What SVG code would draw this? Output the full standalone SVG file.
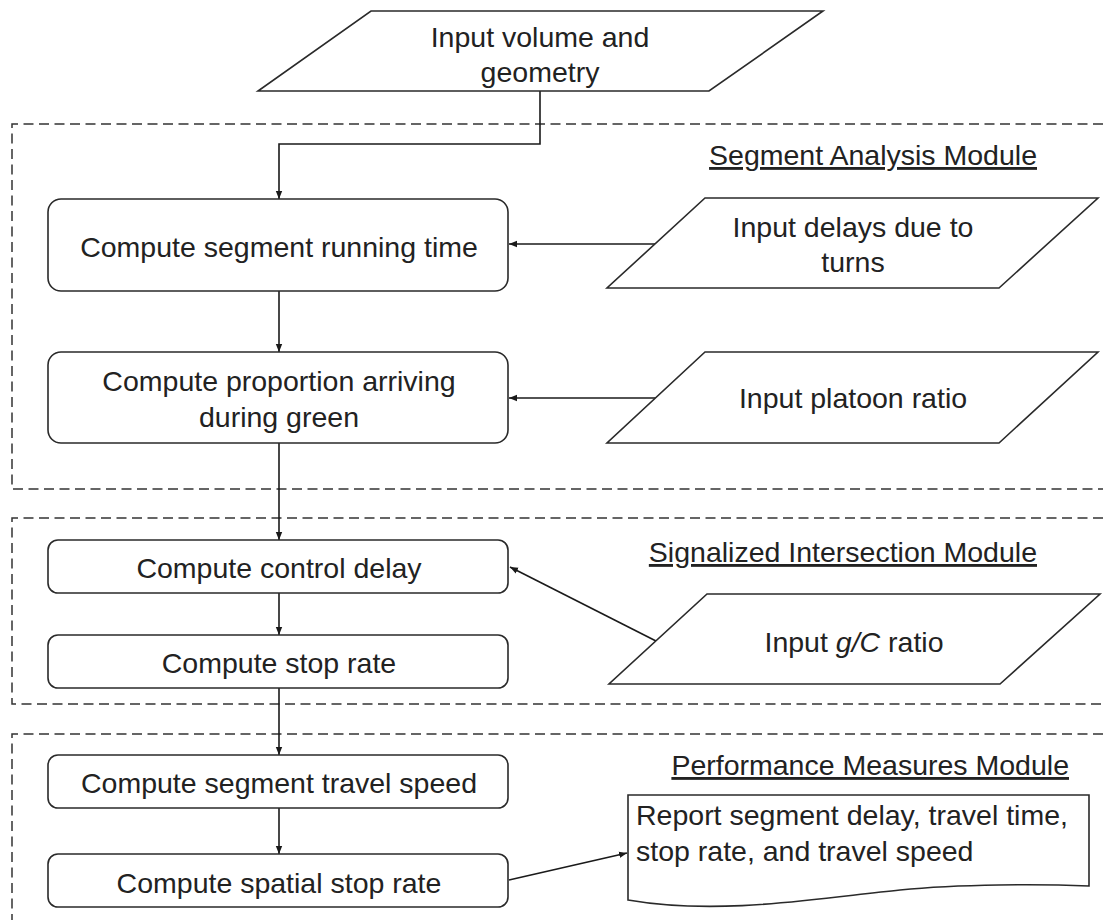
<svg xmlns="http://www.w3.org/2000/svg" width="1103" height="920" viewBox="0 0 1103 920">
<style>
.shape{fill:#fff;stroke:#2a2a2a;stroke-width:1.6}
.dash{fill:none;stroke:#333;stroke-width:1.5;stroke-dasharray:10 5.5}
.conn{fill:none;stroke:#1a1a1a;stroke-width:1.6}
.t{font-family:"Liberation Sans",Arial,sans-serif;font-size:28.5px;fill:#222}
.c{text-anchor:middle}
.mod{text-anchor:end;text-decoration:underline}
</style>
<defs>
<marker id="arr" markerWidth="9" markerHeight="8" refX="8" refY="4" orient="auto" markerUnits="userSpaceOnUse">
<path d="M0,0.8 L8,4 L0,7.2 Z" fill="#1a1a1a"/>
</marker>
</defs>
<rect width="1103" height="920" fill="#fff"/>
<g id="modules">
<path class="dash" d="M1103,124 H12 V489 H1103"/>
<path class="dash" d="M1103,518 H12 V704 H1103"/>
<path class="dash" d="M1103,734 H12 V920"/>
<text class="t mod" x="1037" y="165">Segment Analysis Module</text>
<text class="t mod" x="1037" y="562">Signalized Intersection Module</text>
<text class="t mod" x="1069" y="775">Performance Measures Module</text>
</g>
<g id="connectors">
<path class="conn" d="M540,91 V144 H279 V199" marker-end="url(#arr)"/>
<path class="conn" d="M279,291 V352" marker-end="url(#arr)"/>
<path class="conn" d="M279,443 V540" marker-end="url(#arr)"/>
<path class="conn" d="M279,593 V635" marker-end="url(#arr)"/>
<path class="conn" d="M279,688 V755" marker-end="url(#arr)"/>
<path class="conn" d="M279,808 V854" marker-end="url(#arr)"/>
<path class="conn" d="M656,244 H509" marker-end="url(#arr)"/>
<path class="conn" d="M656,398 H509" marker-end="url(#arr)"/>
<path class="conn" d="M656,641 L510,567" marker-end="url(#arr)"/>
<path class="conn" d="M509,880 L627,853" marker-end="url(#arr)"/>
</g>
<g id="input-volume">
<polygon class="shape" points="371,11 823,11 709,91 258,91"/>
<text class="t c" x="540" y="47">Input volume and</text>
<text class="t c" x="540" y="82">geometry</text>
</g>
<g id="segment-running-time">
<rect class="shape" x="48" y="199" width="460" height="92" rx="13"/>
<text class="t c" x="279" y="257">Compute segment running time</text>
</g>
<g id="proportion-green">
<rect class="shape" x="48" y="352" width="460" height="91" rx="13"/>
<text class="t c" x="279" y="391">Compute proportion arriving</text>
<text class="t c" x="279" y="427">during green</text>
</g>
<g id="input-delays">
<polygon class="shape" points="705,198 1098,198 999,288 607,288"/>
<text class="t c" x="853" y="237">Input delays due to</text>
<text class="t c" x="853" y="272">turns</text>
</g>
<g id="input-platoon">
<polygon class="shape" points="705,352 1098,352 999,443 607,443"/>
<text class="t c" x="853" y="408">Input platoon ratio</text>
</g>
<g id="control-delay">
<rect class="shape" x="48" y="540" width="460" height="53" rx="10"/>
<text class="t c" x="279" y="578">Compute control delay</text>
</g>
<g id="stop-rate">
<rect class="shape" x="48" y="635" width="460" height="53" rx="10"/>
<text class="t c" x="279" y="673">Compute stop rate</text>
</g>
<g id="input-gc">
<polygon class="shape" points="707,594 1100,594 1000,684 609,684"/>
<text class="t c" x="854" y="652">Input <tspan font-style="italic">g/C</tspan> ratio</text>
</g>
<g id="travel-speed">
<rect class="shape" x="48" y="755" width="460" height="53" rx="10"/>
<text class="t c" x="279" y="793">Compute segment travel speed</text>
</g>
<g id="spatial-stop-rate">
<rect class="shape" x="48" y="854" width="460" height="53" rx="10"/>
<text class="t c" x="279" y="893">Compute spatial stop rate</text>
</g>
<g id="report">
<path class="shape" d="M628,795 H1089 V886 C1040,884 960,884 900,890 C820,898 720,916 628,900 Z"/>
<text class="t" x="636" y="825">Report segment delay, travel time,</text>
<text class="t" x="636" y="861">stop rate, and travel speed</text>
</g>
</svg>
